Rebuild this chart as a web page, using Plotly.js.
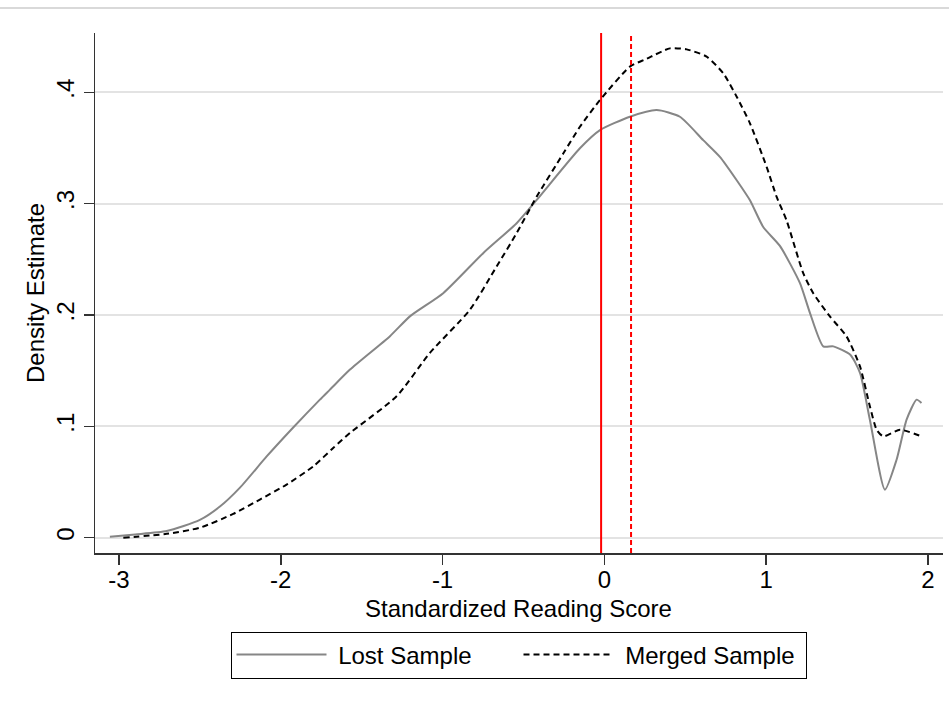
<!DOCTYPE html>
<html>
<head>
<meta charset="utf-8">
<script src="https://cdn.plot.ly/plotly-3.0.1.min.js"></script>
<style>html,body{margin:0;padding:0;background:#fff;}#chart{width:949px;height:707px;}</style>
</head>
<body>
<div id="chart"></div>
<script>
// Lost Sample density (solid gray)
const lostX = [-3.056, -2.9, -2.705, -2.5, -2.376, -2.252, -2.087, -1.923, -1.758, -1.696, -1.572, -1.325, -1.2, -0.996, -0.749, -0.542, -0.418, -0.151, -0.027, 0.158, 0.323, 0.467, 0.611, 0.714, 0.818, 0.9, 0.982, 1.085, 1.209, 1.271, 1.353, 1.415, 1.52, 1.58, 1.641, 1.734, 1.806, 1.868, 1.93, 1.96];
const lostY = [0.001, 0.003, 0.006, 0.016, 0.028, 0.045, 0.073, 0.099, 0.124, 0.133, 0.151, 0.181, 0.199, 0.2196, 0.2555, 0.2824, 0.3033, 0.3497, 0.366, 0.378, 0.384, 0.378, 0.357, 0.342, 0.321, 0.303, 0.279, 0.262, 0.2286, 0.2017, 0.1718, 0.1718, 0.1643, 0.148, 0.106, 0.0432, 0.070, 0.106, 0.124, 0.121];
// Merged Sample density (dashed black)
const mergedX = [-2.973, -2.705, -2.5, -2.294, -2.129, -1.964, -1.799, -1.676, -1.572, -1.284, -1.078, -0.831, -0.666, -0.542, -0.418, -0.254, -0.151, -0.027, 0.158, 0.261, 0.405, 0.509, 0.632, 0.735, 0.818, 0.9, 1.003, 1.065, 1.126, 1.229, 1.291, 1.394, 1.497, 1.58, 1.641, 1.683, 1.724, 1.827, 1.96];
const mergedY = [0.000, 0.0035, 0.009, 0.0214, 0.0343, 0.0477, 0.0641, 0.0806, 0.0941, 0.127, 0.166, 0.2047, 0.2435, 0.2735, 0.3063, 0.345, 0.369, 0.393, 0.423, 0.430, 0.4394, 0.4385, 0.432, 0.417, 0.396, 0.372, 0.333, 0.306, 0.285, 0.2376, 0.2196, 0.1987, 0.1807, 0.1538, 0.118, 0.097, 0.091, 0.097, 0.091];
// Reference lines (solid: lost sample mean, dashed: merged sample mean)
const refSolid = -0.02;
const refDashed = 0.165;
const xTicks = [-3, -2, -1, 0, 1, 2];
const xTickText = ["-3", "-2", "-1", "0", "1", "2"];
const yTicks = [0, 0.1, 0.2, 0.3, 0.4];
const yTickText = ["0", ".1", ".2", ".3", ".4"];
const seriesNames = ["Lost Sample", "Merged Sample"];

const FONT = "'Liberation Sans', Arial, Helvetica, sans-serif";
const FS = 24;
const PAD = '\u00a0'; // small gap between legend key and label

const traces = [
  {x: lostX, y: lostY, type: 'scatter', mode: 'lines', name: PAD + seriesNames[0],
   line: {color: '#868686', width: 2, shape: 'spline', smoothing: 0.6}},
  {x: mergedX, y: mergedY, type: 'scatter', mode: 'lines', name: PAD + seriesNames[1],
   line: {color: '#000000', width: 2, dash: '6px,4px', shape: 'spline', smoothing: 0.6}}
];

const plotW = 949 - 95 - 6, plotH = 707 - 33 - 154;
const layout = {
  width: 949, height: 707,
  margin: {l: 95, r: 6, t: 33, b: 154},
  paper_bgcolor: '#ffffff', plot_bgcolor: '#ffffff',
  font: {family: FONT, size: FS, color: '#000'},
  showlegend: true,
  xaxis: {
    range: [-3.148, 2.093], tickvals: xTicks, ticktext: xTickText,
    showgrid: false, zeroline: false, showline: true, linecolor: '#333', linewidth: 1.5,
    ticks: 'outside', ticklen: 10, tickwidth: 1.5, tickcolor: '#333', ticklabelstandoff: -5,
    tickfont: {size: FS, family: FONT, color: '#000'}
  },
  yaxis: {
    range: [-0.0137, 0.4532], tickvals: yTicks, ticktext: yTickText, tickangle: -90,
    showgrid: true, gridcolor: '#e3e3e3', gridwidth: 2,
    zeroline: false, showline: true, linecolor: '#333', linewidth: 1.5,
    ticks: 'outside', ticklen: 10, tickwidth: 1.5, tickcolor: '#333',
    tickfont: {size: FS, family: FONT, color: '#000'},
    title: {text: 'Density Estimate', font: {size: FS, family: FONT, color: '#000'}, standoff: 0}
  },
  legend: {
    orientation: 'h', x: (518.5 - 95) / plotW, xanchor: 'center', y: (553.5 - 632) / plotH, yanchor: 'top',
    bordercolor: '#000', borderwidth: 1, bgcolor: '#fff',
    font: {size: FS, family: FONT, color: '#000'},
    itemwidth: 90, tracegroupgap: 0, entrywidth: 182
  },
  annotations: [
    {text: 'Standardized Reading Score', xref: 'paper', yref: 'paper',
     x: (518 - 95) / plotW, y: (553.5 - 609) / plotH, xanchor: 'center', yanchor: 'middle',
     showarrow: false, font: {size: FS, family: FONT, color: '#000'}}
  ],
  shapes: [
    {type: 'line', xref: 'x', yref: 'paper', x0: refSolid, x1: refSolid, y0: 0, y1: 1,
     line: {color: '#ff0000', width: 2}},
    {type: 'line', xref: 'x', yref: 'paper', x0: refDashed, x1: refDashed, y0: 0, y1: 1,
     line: {color: '#ff0000', width: 2, dash: '5px,3px'}},
    {type: 'line', xref: 'paper', yref: 'paper', x0: -95 / plotW, x1: (949 - 95) / plotW,
     y0: 1 + (33 - 8) / plotH, y1: 1 + (33 - 8) / plotH, line: {color: '#cccccc', width: 1.5}}
  ]
};

Plotly.newPlot('chart', traces, layout, {displayModeBar: false, staticPlot: true});
</script>
</body>
</html>
